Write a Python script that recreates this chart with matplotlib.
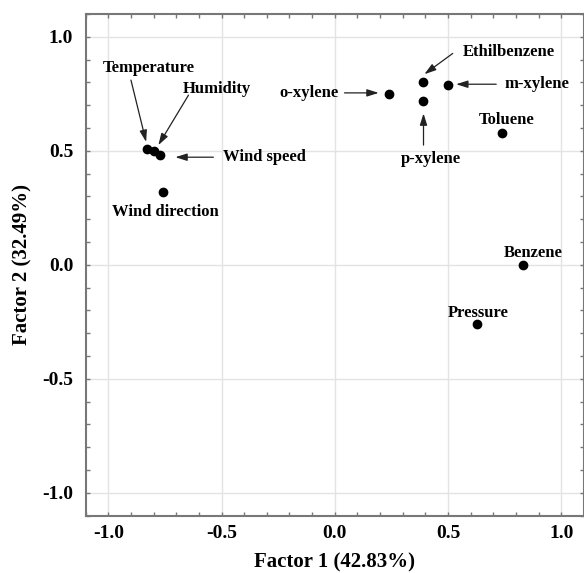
import matplotlib
matplotlib.use("Agg")
import matplotlib.pyplot as plt
from matplotlib.ticker import MultipleLocator

# factor loadings
names = ["Temperature", "Humidity", "Wind speed", "Wind direction",
         "o-xylene", "Ethilbenzene", "p-xylene", "m-xylene",
         "Toluene", "Benzene", "Pressure"]
f1 = [-0.83, -0.80, -0.77, -0.76, 0.24, 0.39, 0.39, 0.50, 0.74, 0.83, 0.63]
f2 = [0.51, 0.50, 0.48, 0.32, 0.75, 0.80, 0.72, 0.79, 0.58, 0.00, -0.26]

# where each label sits (data coords)
lab_x = [-0.82, -0.52, -0.31, -0.75, -0.115, 0.77, 0.425, 0.895, 0.76, 0.875, 0.635]
lab_y = [0.864, 0.769, 0.473, 0.232, 0.754, 0.934, 0.466, 0.792, 0.637, 0.054, -0.212]

# arrows: (tail x, tail y, head x, head y), None = no arrow
arrows = [(-0.90, 0.81, -0.833, 0.539),
          (-0.646, 0.744, -0.779, 0.525),
          (-0.536, 0.472, -0.704, 0.472),
          None,
          (0.043, 0.754, 0.194, 0.754),
          (0.521, 0.927, 0.396, 0.836),
          (0.392, 0.525, 0.392, 0.664),
          (0.713, 0.792, 0.536, 0.792),
          None, None, None]

plt.rcParams['font.family'] = ['Liberation Serif', 'DejaVu Serif']
plt.rcParams['font.weight'] = 'bold'

fig = plt.figure(figsize=(5.84, 5.73), dpi=100)
ax = fig.add_axes([0.1467, 0.100, 0.853, 0.8756])

ax.scatter(f1, f2, s=36, color='black', zorder=3)

for i, n in enumerate(names):
    ax.text(lab_x[i], lab_y[i], n, ha='center', va='center',
            fontsize=12, fontweight='bold', zorder=4)
    if arrows[i] is not None:
        tx, ty, hx, hy = arrows[i]
        ax.annotate('', xy=(hx, hy), xytext=(tx, ty),
                    arrowprops=dict(arrowstyle='-|>,head_length=0.7,head_width=0.22',
                                    color='#222222', lw=0.9,
                                    shrinkA=0, shrinkB=0))

ax.set_xlim(-1.1, 1.1)
ax.set_ylim(-1.1, 1.1)
ax.xaxis.set_major_locator(MultipleLocator(0.5))
ax.yaxis.set_major_locator(MultipleLocator(0.5))
ax.xaxis.set_minor_locator(MultipleLocator(0.1))
ax.yaxis.set_minor_locator(MultipleLocator(0.1))
ax.xaxis.set_major_formatter(plt.FormatStrFormatter('%.1f'))
ax.yaxis.set_major_formatter(plt.FormatStrFormatter('%.1f'))

ax.grid(True, which='major', color='#e3e3e3', lw=1)
ax.set_axisbelow(True)

ax.tick_params(which='both', direction='in', top=True, right=True,
               length=3, width=1, color='#777777', labelsize=14)
ax.tick_params(axis='x', pad=7)
ax.tick_params(axis='y', pad=9)

for sp in ax.spines.values():
    sp.set_color('#777777')
    sp.set_linewidth(1.5)

ax.set_xlabel('Factor 1 (42.83%)', fontsize=15, fontweight='bold', labelpad=7)
ax.set_ylabel('Factor 2 (32.49%)', fontsize=15, fontweight='bold', labelpad=7)

fig.savefig('out.png', dpi=100)
